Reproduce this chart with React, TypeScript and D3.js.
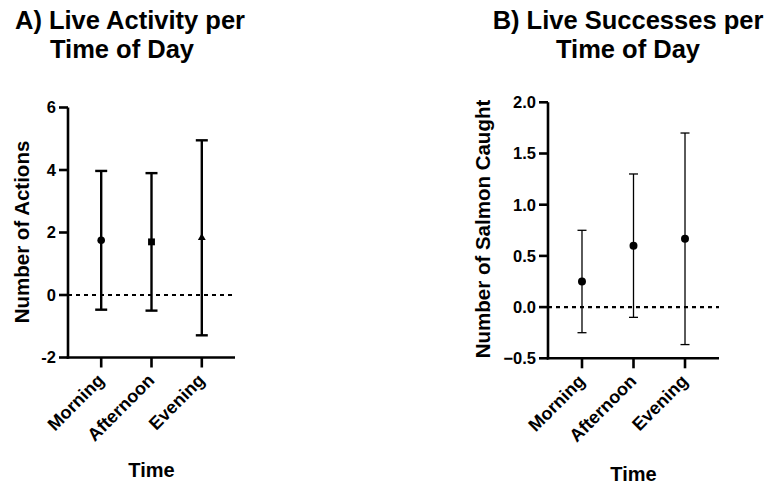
import React from "react";
import * as d3 from "d3";

const categories = ["Morning", "Afternoon", "Evening"];

const activityMean = [1.75, 1.7, 1.83];
const activitySD = [2.22, 2.2, 3.12];
const activityTicks = [-2, 0, 2, 4, 6];

const salmonMean = [0.25, 0.6, 0.667];
const salmonSD = [0.5, 0.7, 1.033];
const salmonTicks = [-0.5, 0, 0.5, 1.0, 1.5, 2.0];

const FONT = "'Liberation Sans', Arial, Helvetica, sans-serif";

type PanelProps = {
  titleLines: string[];
  titleCenters: number[];
  titleBaselines: number[];
  yLabel: string;
  yLabelX: number;
  yLabelY: number;
  xLabelY: number;
  x0: number;
  x1: number;
  yTop: number;
  yBottom: number;
  domain: [number, number];
  ticks: number[];
  tickFmt: (v: number) => string;
  means: number[];
  sds: number[];
  symbols: string[];
  barWidth: number;
  capWidth: number;
  markerSize: number;
};

function Panel(p: PanelProps) {
  const x = d3.scalePoint<string>().domain(categories).range([p.x0, p.x1]).padding(0.66);
  const y = d3.scaleLinear().domain(p.domain).range([p.yBottom, p.yTop]);
  const symGen = (name: string) => {
    const t = name === "square" ? d3.symbolSquare : name === "triangle" ? d3.symbolTriangle : d3.symbolCircle;
    return d3.symbol().type(t).size(p.markerSize * (name === "triangle" ? 0.6 : name === "square" ? 1.05 : 1))();
  };
  const axisY = p.yBottom;
  return (
    <g>
      <text fontSize={25.5} fontWeight="bold" fontFamily={FONT} textAnchor="middle">
        {p.titleLines.map((t, i) => (
          <tspan key={t} x={p.titleCenters[i]} y={p.titleBaselines[i]}>
            {t}
          </tspan>
        ))}
      </text>
      {/* zero line */}
      <line x1={p.x0} x2={p.x1} y1={y(0)} y2={y(0)} stroke="#000" strokeWidth={2.2} strokeDasharray="4,4" />
      {/* y axis */}
      <line x1={p.x0} x2={p.x0} y1={p.yTop} y2={axisY + 1.25} stroke="#000" strokeWidth={2.6} />
      {p.ticks.map((t) => (
        <g key={t}>
          <line x1={p.x0 - 9} x2={p.x0} y1={y(t)} y2={y(t)} stroke="#000" strokeWidth={2.6} />
          <text x={p.x0 - 12} y={y(t)} dy="0.36em" textAnchor="end" fontSize={16.5} fontWeight="bold" fontFamily={FONT}>
            {p.tickFmt(t)}
          </text>
        </g>
      ))}
      {/* x axis */}
      <line x1={p.x0 - 1.3} x2={p.x1} y1={axisY} y2={axisY} stroke="#000" strokeWidth={2.6} />
      {categories.map((c) => (
        <g key={c}>
          <line x1={x(c)} x2={x(c)} y1={axisY} y2={axisY + 10} stroke="#000" strokeWidth={2.6} />
          <text
            transform={`translate(${(x(c) as number) + 4},${axisY + 24}) rotate(-45)`}
            textAnchor="end"
            fontSize={18}
            fontWeight="bold"
            fontFamily={FONT}
          >
            {c}
          </text>
        </g>
      ))}
      {/* error bars */}
      {categories.map((c, i) => {
        const cx = x(c) as number;
        const hi = y(p.means[i] + p.sds[i]);
        const lo = y(p.means[i] - p.sds[i]);
        return (
          <g key={c}>
            <line x1={cx} x2={cx} y1={hi} y2={lo} stroke="#000" strokeWidth={p.barWidth} />
            <line x1={cx - p.capWidth / 2} x2={cx + p.capWidth / 2} y1={hi} y2={hi} stroke="#000" strokeWidth={p.barWidth} />
            <line x1={cx - p.capWidth / 2} x2={cx + p.capWidth / 2} y1={lo} y2={lo} stroke="#000" strokeWidth={p.barWidth} />
            <path d={symGen(p.symbols[i]) as string} transform={`translate(${cx},${y(p.means[i])})`} fill="#000" />
          </g>
        );
      })}
      {/* axis titles */}
      <text transform={`translate(${p.yLabelX},${p.yLabelY}) rotate(-90)`} textAnchor="middle" fontSize={20.5} fontWeight="bold" fontFamily={FONT}>
        {p.yLabel}
      </text>
      <text x={(p.x0 + p.x1) / 2} y={p.xLabelY} textAnchor="middle" fontSize={20} fontWeight="bold" fontFamily={FONT}>
        Time
      </text>
    </g>
  );
}

export default function App() {
  return (
    <svg width={772} height={487} style={{ position: "absolute", left: 0, top: 0, background: "#fff" }}>
      <rect width={772} height={487} fill="#fff" />
      <Panel
        titleLines={["A) Live Activity per", "Time of Day"]}
        titleCenters={[130, 122]}
        titleBaselines={[29, 57.5]}
        yLabel="Number of Actions"
        yLabelX={29}
        yLabelY={232}
        xLabelY={477}
        x0={68}
        x1={235}
        yTop={107.5}
        yBottom={357.5}
        domain={[-2, 6]}
        ticks={activityTicks}
        tickFmt={(v) => String(v)}
        means={activityMean}
        sds={activitySD}
        symbols={["circle", "square", "triangle"]}
        barWidth={2.4}
        capWidth={12}
        markerSize={45}
      />
      <Panel
        titleLines={["B) Live Successes per", "Time of Day"]}
        titleCenters={[628, 628]}
        titleBaselines={[29, 57.5]}
        yLabel="Number of Salmon Caught"
        yLabelX={490}
        yLabelY={229}
        xLabelY={481}
        x0={548}
        x1={719}
        yTop={102.3}
        yBottom={358.3}
        domain={[-0.5, 2.0]}
        ticks={salmonTicks}
        tickFmt={(v) => d3.format(".1f")(v)}
        means={salmonMean}
        sds={salmonSD}
        symbols={["circle", "circle", "circle"]}
        barWidth={1.3}
        capWidth={9}
        markerSize={50}
      />
    </svg>
  );
}
